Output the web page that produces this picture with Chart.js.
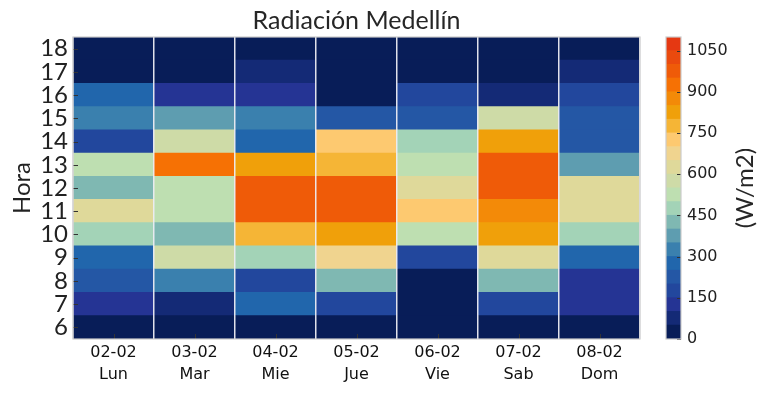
<!DOCTYPE html>
<html><head><meta charset="utf-8">
<script src="https://cdn.jsdelivr.net/npm/chart.js@4/dist/chart.umd.min.js"></script>
<style>
html,body{margin:0;padding:0;background:#fff;}
#wrap{position:relative;width:767px;height:395px;overflow:hidden;}
#main{position:absolute;left:0;top:0;}
#cbar{position:absolute;left:650px;top:0;}
</style></head><body>
<div id="wrap"><canvas id="main" width="650" height="395"></canvas><canvas id="cbar" width="117" height="395"></canvas></div>
<script>
// ---- data ----
const dayLabels = [["02-02","Lun"],["03-02","Mar"],["04-02","Mie"],["05-02","Jue"],["06-02","Vie"],["07-02","Sab"],["08-02","Dom"]];
const hours = [6,7,8,9,10,11,12,13,14,15,16,17,18];
// radiation (W/m2) per day, hour 6 -> 18
const lun = [20,125,225,275,475,625,425,525,175,325,275,20,20];
const mar = [20,75,325,575,425,525,525,925,575,375,125,20,20];
const mie = [20,275,175,475,775,975,975,825,275,325,125,75,20];
const jue = [20,175,425,675,825,975,975,775,725,225,20,20,20];
const vie = [20,20,20,175,525,725,625,525,475,225,175,20,20];
const sab = [20,175,425,625,825,875,975,975,825,575,75,20,20];
const dom = [20,125,125,275,475,625,625,375,225,225,175,75,20];
const colorLevels = [0,50,100,150,200,250,300,350,400,450,500,550,600,650,700,750,800,850,900,950,1000,1050,1100];
const levelColors = ["#081d58","#142a76","#253494","#22479d","#2457a5","#2166ac","#3a80ae","#5e9db0","#7fb8b2","#a3d3b7","#bedfb1","#cedba7","#dfd99a","#f0d48f","#fdc970","#f5b536","#f0a00a","#f38a08","#f67104","#ef5b08","#ea4a0e","#e53812"];
const colorbarTicks = [0,150,300,450,600,750,900,1050];
const series = [lun, mar, mie, jue, vie, sab, dom];

const DEJAVU = "'DejaVu Sans', sans-serif";
const LATO = "Lato, sans-serif";

function colorFor(v){
  for (let i = 0; i < levelColors.length; i++) {
    if (v < colorLevels[i+1]) return levelColors[i];
  }
  return levelColors[levelColors.length-1];
}

const decoMain = {
  id: 'decoMain',
  afterDraw(chart){
    const {ctx, chartArea: a, scales} = chart;
    ctx.save();
    ctx.strokeStyle = '#333'; ctx.lineWidth = 1;
    hours.forEach(h => {
      const y = Math.round(scales.y.getPixelForValue(h)) + 0.5;
      ctx.beginPath(); ctx.moveTo(a.left, y); ctx.lineTo(a.left + 5, y); ctx.stroke();
    });
    dayLabels.forEach((d, i) => {
      const x = Math.round(scales.x.getPixelForValue(i)) + 0.5;
      ctx.beginPath(); ctx.moveTo(x, a.bottom); ctx.lineTo(x, a.bottom - 5); ctx.stroke();
    });
    ctx.strokeStyle = '#cccccc'; ctx.lineWidth = 1.2;
    ctx.strokeRect(a.left, a.top, a.right - a.left, a.bottom - a.top);
    ctx.fillStyle = '#262626';
    ctx.font = '25px ' + LATO;
    ctx.textAlign = 'center'; ctx.textBaseline = 'alphabetic';
    ctx.fillText('Radiación Medellín', (a.left + a.right) / 2, 29);
    ctx.restore();
  }
};

new Chart(document.getElementById('main'), {
  type: 'bar',
  data: {
    labels: dayLabels,
    datasets: hours.map((h, hi) => ({
      label: String(h),
      data: dayLabels.map(() => [h - 0.5, h + 0.5]),
      backgroundColor: c => colorFor(series[c.dataIndex][hi]),
      borderWidth: 0,
      grouped: false,
      categoryPercentage: 1,
      barPercentage: 1,
      inflateAmount: 0.5
    }))
  },
  options: {
    responsive: false,
    animation: false,
    layout: {padding: {top: 37, right: 10, left: 0, bottom: 0}},
    plugins: {legend: {display: false}, tooltip: {enabled: false}, title: {display: false}},
    scales: {
      x: {
        type: 'category',
        offset: true,
        grid: {display: true, offset: true, color: 'rgba(236,236,242,0.95)', lineWidth: 1.5, drawTicks: false, z: 1},
        border: {display: false},
        ticks: {font: {family: DEJAVU, size: 16, lineHeight: 1.35}, color: '#111', padding: 3, maxRotation: 0, autoSkip: false},
        afterFit: s => { s.height = 56; }
      },
      y: {
        type: 'linear',
        min: 5.5, max: 18.5,
        afterBuildTicks: s => { s.ticks = hours.map(v => ({value: v})); },
        grid: {display: false, drawTicks: false},
        border: {display: false},
        ticks: {font: {family: LATO, size: 24, lineHeight: 1}, color: '#222', padding: 5, autoSkip: false},
        title: {display: true, text: 'Hora', font: {family: LATO, size: 24}, color: '#222', padding: {top: 8}},
        afterFit: s => { s.width = 73; }
      }
    }
  },
  plugins: [decoMain]
});

const decoBar = {
  id: 'decoBar',
  afterDraw(chart){
    const {ctx, chartArea: a, scales} = chart;
    ctx.save();
    ctx.strokeStyle = '#333'; ctx.lineWidth = 1;
    colorbarTicks.forEach(t => {
      const y = Math.round(scales.y.getPixelForValue(t)) + 0.5;
      ctx.beginPath(); ctx.moveTo(a.right - 4, y); ctx.lineTo(a.right, y); ctx.stroke();
    });
    ctx.strokeStyle = '#cccccc'; ctx.lineWidth = 1.2;
    ctx.strokeRect(a.left, a.top, a.right - a.left, a.bottom - a.top);
    ctx.translate(95, (a.top + a.bottom) / 2);
    ctx.rotate(-Math.PI / 2);
    ctx.fillStyle = '#262626';
    ctx.font = '24px ' + LATO;
    ctx.textAlign = 'center'; ctx.textBaseline = 'middle';
    ctx.fillText('(W/m2)', 0, 0);
    ctx.restore();
  }
};

new Chart(document.getElementById('cbar'), {
  type: 'bar',
  data: {
    labels: [''],
    datasets: levelColors.map((c, i) => ({
      data: [[colorLevels[i], colorLevels[i+1]]],
      backgroundColor: c,
      borderWidth: 0,
      grouped: false,
      categoryPercentage: 1,
      barPercentage: 1,
      inflateAmount: 0.5
    }))
  },
  options: {
    responsive: false,
    animation: false,
    layout: {padding: {top: 37, bottom: 56, left: 16, right: 0}},
    plugins: {legend: {display: false}, tooltip: {enabled: false}},
    scales: {
      x: {display: false, offset: true},
      y: {
        position: 'right',
        min: 0, max: 1100,
        afterBuildTicks: s => { s.ticks = colorbarTicks.map(v => ({value: v})); },
        grid: {display: false, drawTicks: false},
        border: {display: false},
        ticks: {font: {family: DEJAVU, size: 16}, color: '#222', padding: 6, callback: v => String(v)},
        afterFit: s => { s.width = 86; }
      }
    }
  },
  plugins: [decoBar]
});
</script>
</body></html>
